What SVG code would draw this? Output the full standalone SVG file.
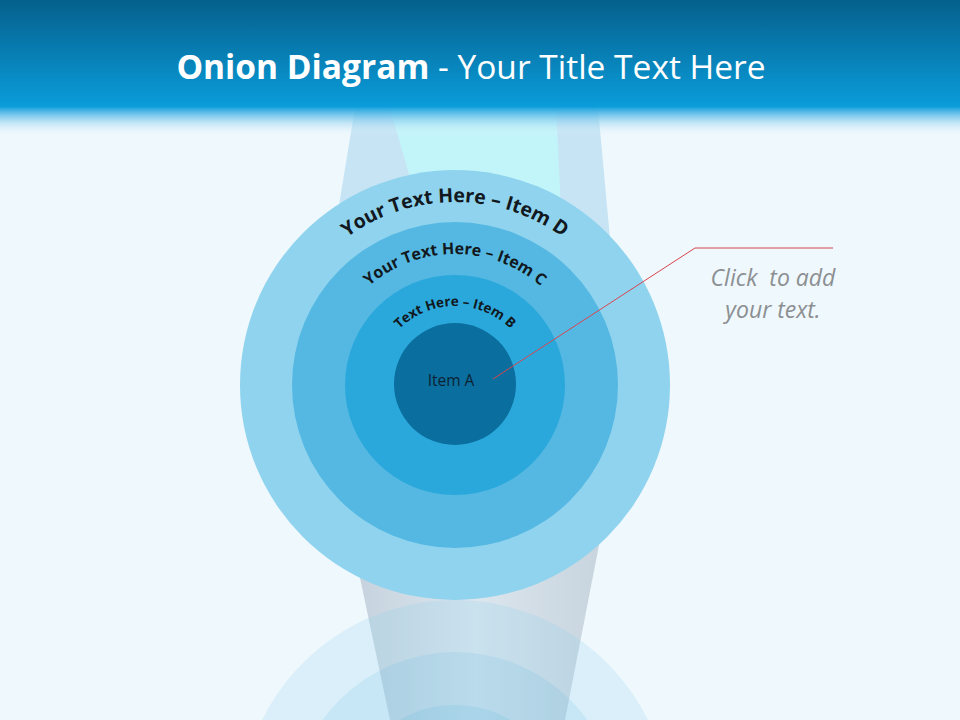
<svg xmlns="http://www.w3.org/2000/svg" xmlns:xlink="http://www.w3.org/1999/xlink" width="960" height="720" viewBox="0 0 960 720">
  <defs>
    <linearGradient id="hdr" x1="0" y1="0" x2="0" y2="1">
      <stop offset="0" stop-color="#05608c"/>
      <stop offset="1" stop-color="#0a9ddb"/>
    </linearGradient>
    <linearGradient id="fade" x1="0" y1="0" x2="0" y2="1">
      <stop offset="0" stop-color="#0a9ddb" stop-opacity="1"/>
      <stop offset="0.35" stop-color="#6ec3ea" stop-opacity="0.8"/>
      <stop offset="1" stop-color="#eff8fd" stop-opacity="0"/>
    </linearGradient>
    <linearGradient id="cyl" x1="0" y1="0" x2="1" y2="0">
      <stop offset="0" stop-color="#c5d2dd"/>
      <stop offset="0.5" stop-color="#dbe6ee"/>
      <stop offset="1" stop-color="#c8d4de"/>
    </linearGradient>
    <path id="arcD" d="M 272 385 A 183 183 0 0 1 638 385"/>
    <path id="arcC" d="M 324 385 A 131 131 0 0 1 586 385"/>
    <path id="arcB" d="M 376 385 A 79 79 0 0 1 534 385"/>
    <style>
      .arc { font-family: "Open Sans", "Noto Sans", sans-serif; font-weight: bold; fill: #111820; }
      .callout { font-family: "Open Sans", "Noto Sans", sans-serif; font-style: italic; font-size: 23px; fill: #8c8f92; }
    </style>
  </defs>

  <!-- background -->
  <rect x="0" y="0" width="960" height="720" fill="#eff8fd"/>

  <!-- light beam from top -->
  <g id="beam">
    <polygon points="355,108 598,108 612,260 330,260" fill="#c6e4f4"/>
    <polygon points="390,108 556,108 562,230 425,230" fill="#c2f5fa"/>
  </g>

  <!-- cylinder stem below -->
  <g id="stem">
    <polygon points="352,540 600,540 565,720 390,720" fill="url(#cyl)"/>
  </g>

  <!-- reflection -->
  <g id="reflection" opacity="0.4">
    <circle cx="455" cy="815" r="215" fill="#8fd3ee" opacity="0.55"/>
    <circle cx="455" cy="815" r="163" fill="#55b8e2" opacity="0.45"/>
    <circle cx="455" cy="815" r="110" fill="#2aa8dc" opacity="0.4"/>
  </g>

  <!-- header -->
  <rect x="0" y="0" width="960" height="108" fill="url(#hdr)"/>
  <rect x="0" y="106" width="960" height="30" fill="url(#fade)"/>
  <text x="471" y="79" text-anchor="middle" font-family="Open Sans, Noto Sans, sans-serif" font-size="33.5" fill="#ffffff"><tspan font-weight="bold">Onion Diagram</tspan> - Your Title Text Here</text>

  <!-- onion -->
  <g id="itemD">
    <circle cx="455" cy="385" r="215" fill="#8fd3ee"/>
    <text class="arc" font-size="19.5"><textPath href="#arcD" xlink:href="#arcD" startOffset="50%" text-anchor="middle">Your Text Here – Item D</textPath></text>
  </g>
  <g id="itemC">
    <circle cx="455" cy="385" r="163" fill="#55b8e2"/>
    <text class="arc" font-size="16"><textPath href="#arcC" xlink:href="#arcC" startOffset="50%" text-anchor="middle">Your Text Here – Item C</textPath></text>
  </g>
  <g id="itemB">
    <circle cx="455" cy="385" r="110" fill="#2aa8dc"/>
    <text class="arc" font-size="13.5"><textPath href="#arcB" xlink:href="#arcB" startOffset="50%" text-anchor="middle">Text Here – Item B</textPath></text>
  </g>
  <g id="itemA">
    <circle cx="455" cy="384" r="61" fill="#0a6e9e"/>
    <text x="451" y="386" text-anchor="middle" font-family="Open Sans, Noto Sans, sans-serif" font-size="15.5" fill="#0c2233">Item A</text>
  </g>

  <!-- connectors -->
  <g id="connectors">
    <polyline points="493,379 695,248 833,248" fill="none" stroke="#d8454f" stroke-width="1"/>
  </g>

  <g id="callout">
    <text class="callout" x="773" y="286" text-anchor="middle" xml:space="preserve">Click  to add</text>
    <text class="callout" x="773" y="318" text-anchor="middle">your text.</text>
  </g>
</svg>
